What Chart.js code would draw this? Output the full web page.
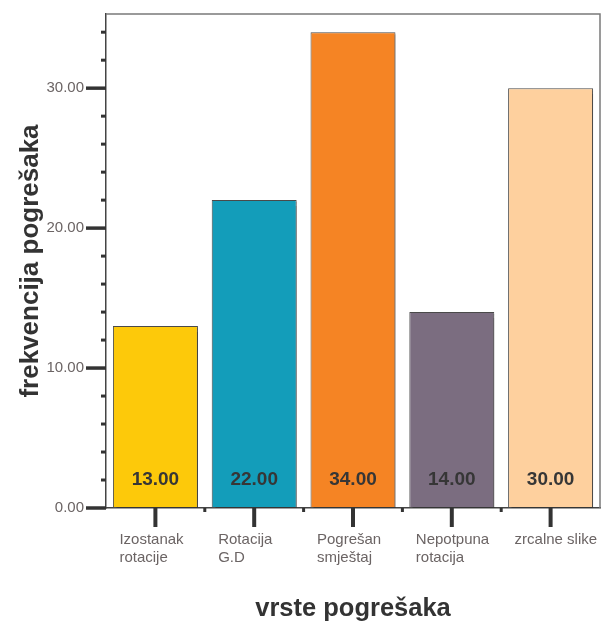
<!DOCTYPE html>
<html>
<head>
<meta charset="utf-8">
<script src="https://cdn.jsdelivr.net/npm/chart.js@4/dist/chart.umd.min.js"></script>
<style>
  html, body { margin: 0; padding: 0; background: #ffffff; }
  #wrap { width: 605px; height: 624px; }
</style>
</head>
<body>
<div id="wrap"><canvas id="c" width="605" height="624"></canvas></div>
<script>
// Error types and how often each occurred
const categories = [
  ['Izostanak', 'rotacije'],
  ['Rotacija', 'G.D'],
  ['Pogrešan', 'smještaj'],
  ['Nepotpuna', 'rotacija'],
  ['zrcalne slike']
];
const frequencies = [13, 22, 34, 14, 30];
const barColors = ['#FDC90A', '#139DBA', '#F58424', '#7B6D80', '#FED09E'];
const yTickValues = [0, 10, 20, 30];
const yMinorStep = 2;
const yMax = 35.3;

const inkDark = '#333333';
const tickText = '#6b6464';

// Axis ticks (long major + short minor), frame and value labels
const decorations = {
  id: 'decorations',
  beforeDatasetDraw(chart) {
    const ctx = chart.ctx;
    ctx.save();
    ctx.shadowColor = 'rgba(0,0,0,0.28)';
    ctx.shadowOffsetX = 2;
    ctx.shadowOffsetY = 2;
    ctx.shadowBlur = 1;
  },
  afterDatasetDraw(chart) {
    chart.ctx.restore();
  },
  afterDraw(chart) {
    const ctx = chart.ctx;
    const area = chart.chartArea;
    const x = chart.scales.x;
    const y = chart.scales.y;
    ctx.save();

    // top and right frame lines
    ctx.strokeStyle = '#7a7a7a';
    ctx.lineWidth = 1.5;
    ctx.beginPath();
    ctx.moveTo(area.left, area.top);
    ctx.lineTo(area.right, area.top);
    ctx.lineTo(area.right, area.bottom);
    ctx.stroke();

    // y ticks
    ctx.strokeStyle = inkDark;
    ctx.lineWidth = 3;
    for (let v = 0; v <= yMax; v += yMinorStep) {
      const py = y.getPixelForValue(v);
      const major = yTickValues.includes(v);
      ctx.beginPath();
      ctx.moveTo(area.left - (major ? 20 : 5), py);
      ctx.lineTo(area.left, py);
      ctx.stroke();
    }
    for (const v of yTickValues) {
      const py = y.getPixelForValue(v);
      ctx.beginPath();
      ctx.moveTo(area.left - 20, py);
      ctx.lineTo(area.left, py);
      ctx.stroke();
    }

    // x ticks: long at category centres, short between categories
    ctx.lineWidth = 4;
    for (let i = 0; i < categories.length; i++) {
      const px = x.getPixelForValue(i);
      ctx.beginPath();
      ctx.moveTo(px, area.bottom);
      ctx.lineTo(px, area.bottom + 19);
      ctx.stroke();
    }
    ctx.lineWidth = 3;
    for (let i = 0; i < categories.length - 1; i++) {
      const px = (x.getPixelForValue(i) + x.getPixelForValue(i + 1)) / 2;
      ctx.beginPath();
      ctx.moveTo(px, area.bottom);
      ctx.lineTo(px, area.bottom + 4);
      ctx.stroke();
    }

    // value labels near the foot of each bar
    ctx.fillStyle = '#363636';
    ctx.font = 'bold 19px "Liberation Sans", Arial, sans-serif';
    ctx.textAlign = 'center';
    ctx.textBaseline = 'middle';
    const base = y.getPixelForValue(0);
    frequencies.forEach((v, i) => {
      ctx.fillText(v.toFixed(2), x.getPixelForValue(i), base - 28);
    });
    ctx.restore();
  }
};

new Chart(document.getElementById('c'), {
  type: 'bar',
  data: {
    labels: categories,
    datasets: [{
      data: frequencies,
      backgroundColor: barColors,
      borderColor: '#4a4a4a',
      borderWidth: 1,
      borderSkipped: false,
      barPercentage: 0.86,
      categoryPercentage: 1.0
    }]
  },
  options: {
    responsive: false,
    animation: false,
    layout: { padding: { top: 14, right: 5, left: 0, bottom: 0 } },
    plugins: {
      legend: { display: false },
      tooltip: { enabled: false }
    },
    scales: {
      x: {
        grid: { display: false, drawTicks: false },
        border: { display: true, color: '#444444', width: 1.5 },
        ticks: {
          color: tickText,
          font: { family: '"Liberation Sans", Arial, sans-serif', size: 15 },
          padding: 23,
          align: 'start',
          labelOffset: -36,
          maxRotation: 0,
          autoSkip: false
        },
        title: {
          display: true,
          text: 'vrste pogrešaka',
          color: inkDark,
          font: { family: '"Liberation Sans", Arial, sans-serif', size: 25.5, weight: 'bold' },
          padding: { top: 3, bottom: 0 }
        },
        afterFit(scale) {
          scale.height = 116;
          scale.paddingLeft = 0;
          scale.paddingRight = 0;
        }
      },
      y: {
        min: 0,
        max: yMax,
        grid: { display: false, drawTicks: false },
        border: { display: true, color: '#444444', width: 1.5 },
        afterBuildTicks(scale) {
          scale.ticks = yTickValues.map(v => ({ value: v }));
        },
        ticks: {
          color: tickText,
          font: { family: '"Liberation Sans", Arial, sans-serif', size: 15 },
          padding: 22,
          callback: v => Number(v).toFixed(2)
        },
        title: {
          display: true,
          text: 'frekvencija pogrešaka',
          color: inkDark,
          font: { family: '"Liberation Sans", Arial, sans-serif', size: 26, weight: 'bold' },
          padding: { top: 15, bottom: 0 }
        },
        afterFit(scale) {
          scale.width = 106;
          scale.paddingTop = 0;
          scale.paddingBottom = 0;
        }
      }
    }
  },
  plugins: [decorations]
});
</script>
</body>
</html>
